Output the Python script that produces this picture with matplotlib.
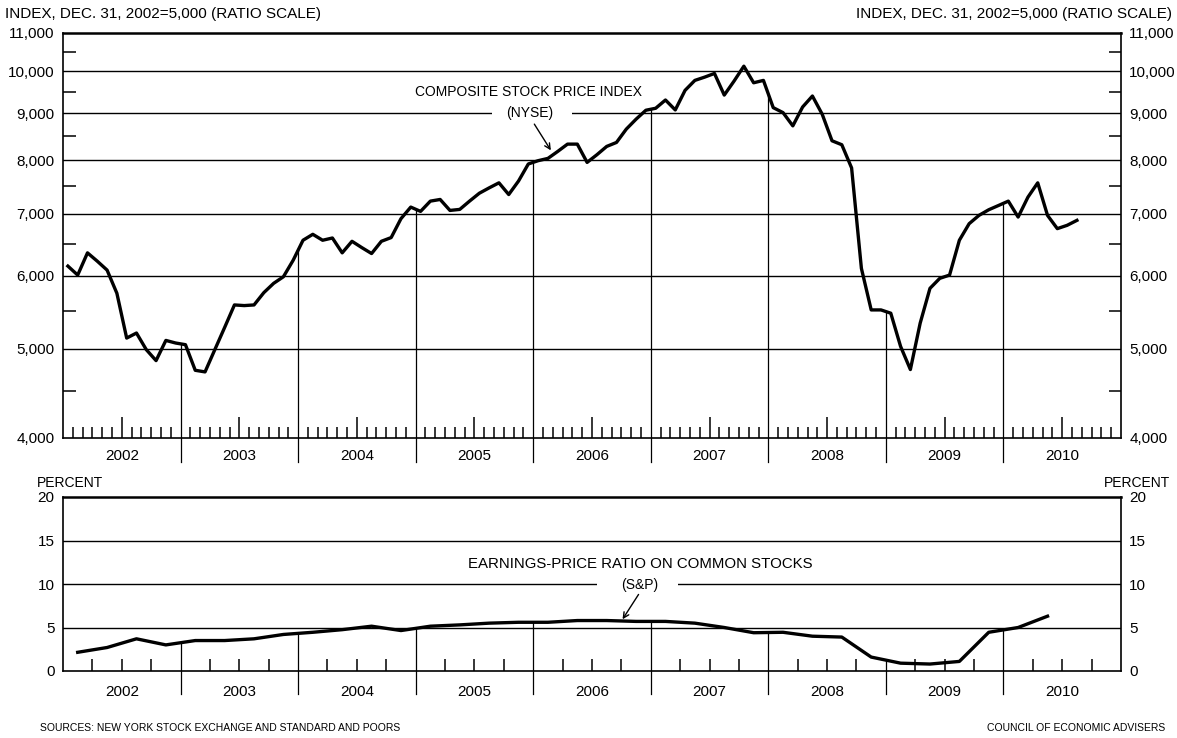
import numpy as np
import matplotlib
matplotlib.use('Agg')
import matplotlib.pyplot as plt
from matplotlib import ticker
from matplotlib.transforms import blended_transform_factory
from matplotlib.patches import Rectangle

plt.rcParams['font.family'] = ['Liberation Sans', 'DejaVu Sans']

years = list(range(2002, 2011))

# NYSE composite, monthly, Dec. 31, 2002 = 5,000
nyse_2002 = [6145, 6009, 6352, 6221, 6084, 5742, 5134, 5199, 4988, 4853, 5104, 5071]
nyse_2003 = [5050, 4737, 4718, 4988, 5272, 5577, 5568, 5577, 5751, 5886, 5984, 6237]
nyse_2004 = [6555, 6653, 6555, 6592, 6352, 6538, 6436, 6341, 6538, 6599, 6918, 7121]
nyse_2005 = [7045, 7228, 7258, 7062, 7080, 7228, 7372, 7471, 7566, 7348, 7600, 7931]
nyse_2006 = [7996, 8042, 8183, 8334, 8334, 7962, 8116, 8286, 8369, 8652, 8870, 9070]
nyse_2007 = [9115, 9305, 9077, 9532, 9772, 9852, 9943, 9420, 9755, 10125, 9714, 9772]
nyse_2008 = [9129, 9016, 8723, 9144, 9398, 8980, 8404, 8321, 7853, 6110, 5508, 5508]
nyse_2009 = [5463, 5028, 4746, 5329, 5813, 5960, 6009, 6555, 6832, 6975, 7074, 7150]
nyse_2010 = [7228, 6946, 7300, 7566, 6975, 6748, 6804, 6889]

# S&P earnings-price ratio, quarterly, percent
ep_ratio = [2.15, 2.7, 3.7, 3.0,
            3.5, 3.5, 3.7, 4.2,
            4.45, 4.75, 5.15, 4.65,
            5.15, 5.3, 5.5, 5.6,
            5.6, 5.8, 5.8, 5.7,
            5.7, 5.5, 5.0, 4.4,
            4.45, 4.0, 3.9, 1.6,
            0.9, 0.8, 1.1, 4.45,
            5.0, 6.3]

index_ticks = [4000, 5000, 6000, 7000, 8000, 9000, 10000, 11000]
index_minor = [4500, 5500, 6500, 7500, 8500, 9500, 10500]
pct_ticks = [0, 5, 10, 15, 20]

nyse = np.array(nyse_2002 + nyse_2003 + nyse_2004 + nyse_2005 + nyse_2006
                + nyse_2007 + nyse_2008 + nyse_2009 + nyse_2010, dtype=float)
months_x = 2002 + (np.arange(len(nyse)) + 0.5) / 12
quarters_x = 2002 + (np.arange(len(ep_ratio)) + 0.5) / 4

W, H = 1177, 738
fig = plt.figure(figsize=(W / 100, H / 100), dpi=100)


def px_axes(l, t, r, b):
    return fig.add_axes([l / W, 1 - b / H, (r - l) / W, (b - t) / H])


def style_frame(ax):
    for side in ['left', 'right', 'bottom']:
        ax.spines[side].set_linewidth(1.2)
    ax.spines['top'].set_linewidth(1.8)


ax1 = px_axes(63, 33, 1121, 438)
ax2 = px_axes(63, 497, 1121, 671)

# ---- top panel: stock price index (ratio scale)
ax1.set_yscale('log')
ax1.set_ylim(index_ticks[0], index_ticks[-1])
ax1.set_xlim(2002, 2011)
ax1.yaxis.set_major_locator(ticker.FixedLocator(index_ticks))
ax1.yaxis.set_major_formatter(ticker.FuncFormatter(lambda v, p: f'{v:,.0f}'))
ax1.yaxis.set_minor_locator(ticker.FixedLocator(index_minor))
ax1.yaxis.set_minor_formatter(ticker.NullFormatter())
ax1.tick_params(axis='y', which='major', length=0, labelsize=11, pad=6,
                left=True, right=True, labelleft=True, labelright=True)
ax1.tick_params(axis='y', which='minor', direction='in', length=9, width=1.1,
                left=True, right=True)

ax1.xaxis.set_major_locator(ticker.FixedLocator([y + 0.5 for y in years]))
ax1.xaxis.set_major_formatter(ticker.FixedFormatter([str(y) for y in years]))
month_ticks = [y + m / 12 for y in years for m in range(1, 12) if m != 6]
ax1.xaxis.set_minor_locator(ticker.FixedLocator(month_ticks))
ax1.tick_params(axis='x', which='major', direction='in', length=15, width=1.1,
                labelsize=11, pad=8)
ax1.tick_params(axis='x', which='minor', direction='in', length=8, width=1.1)

for v in index_ticks[1:-1]:
    ax1.axhline(v, color='black', lw=1.0, zorder=1)

trans1 = blended_transform_factory(ax1.transData, ax1.transAxes)
for yr in years[1:]:
    top = np.exp(np.interp(yr, months_x, np.log(nyse)))
    ax1.plot([yr, yr], [index_ticks[0], top], color='black', lw=0.9, zorder=1)
    ax1.plot([yr, yr], [0, -0.06], color='black', lw=0.9, transform=trans1,
             clip_on=False)

ax1.plot(months_x, nyse, color='black', lw=2.4, zorder=3)

# break in the 9,000 line behind the label
y9 = np.log(9000 / 4000) / np.log(11000 / 4000)
ax1.add_patch(Rectangle((0.4055, y9 - 0.02), 0.0755, 0.04, transform=ax1.transAxes,
                        facecolor='white', edgecolor='none', zorder=2))
ax1.text(0.440, 0.854, 'COMPOSITE STOCK PRICE INDEX', transform=ax1.transAxes,
         ha='center', va='center', fontsize=10, zorder=4)
ax1.text(0.441, y9, '(NYSE)', transform=ax1.transAxes,
         ha='center', va='center', fontsize=10, zorder=4)
arrow_x = 2006.15
arrow_y = np.exp(np.interp(arrow_x, months_x, np.log(nyse)))
ax1.annotate('', xy=(arrow_x, arrow_y * 1.015), xytext=(0.4455, 0.775),
             textcoords='axes fraction',
             arrowprops=dict(arrowstyle='->', color='black', lw=1.0,
                             shrinkA=0, shrinkB=0))
style_frame(ax1)

# ---- bottom panel: earnings-price ratio
ax2.set_xlim(2002, 2011)
ax2.set_ylim(pct_ticks[0], pct_ticks[-1])
ax2.yaxis.set_major_locator(ticker.FixedLocator(pct_ticks))
ax2.tick_params(axis='y', which='major', length=0, labelsize=11, pad=6,
                left=True, right=True, labelleft=True, labelright=True)
ax2.xaxis.set_major_locator(ticker.FixedLocator([y + 0.5 for y in years]))
ax2.xaxis.set_major_formatter(ticker.FixedFormatter([str(y) for y in years]))
ax2.xaxis.set_minor_locator(ticker.FixedLocator(
    [y + q for y in years for q in (0.25, 0.75)]))
ax2.tick_params(axis='x', which='both', direction='in', length=9, width=1.1)
ax2.tick_params(axis='x', which='major', labelsize=11, pad=10)

for v in pct_ticks[1:-1]:
    ax2.axhline(v, color='black', lw=1.0, zorder=1)

trans2 = blended_transform_factory(ax2.transData, ax2.transAxes)
for yr in years[1:]:
    top = np.interp(yr, quarters_x, ep_ratio)
    ax2.plot([yr, yr], [0, top], color='black', lw=0.9, zorder=1)
    ax2.plot([yr, yr], [0, -0.135], color='black', lw=0.9, transform=trans2,
             clip_on=False)

ax2.plot(quarters_x, ep_ratio, color='black', lw=2.4, zorder=3)

ax2.add_patch(Rectangle((0.5047, 0.5 - 0.04), 0.0766, 0.08, transform=ax2.transAxes,
                        facecolor='white', edgecolor='none', zorder=2))
ax2.text(0.546, 0.615, 'EARNINGS-PRICE RATIO ON COMMON STOCKS', transform=ax2.transAxes,
         ha='center', va='center', fontsize=10.8, zorder=4)
ax2.text(0.545, 0.494, '(S&P)', transform=ax2.transAxes,
         ha='center', va='center', fontsize=10, zorder=4)
ep_x = 2006.76
ep_tip = np.interp(ep_x, quarters_x, ep_ratio)
ax2.annotate('', xy=(ep_x, ep_tip + 0.2), xytext=(0.544, 0.44),
             textcoords='axes fraction',
             arrowprops=dict(arrowstyle='->', color='black', lw=1.0,
                             shrinkA=0, shrinkB=0))
style_frame(ax2)

# ---- headers and footers
fig.text(5 / W, 1 - 14 / H, 'INDEX, DEC. 31, 2002=5,000 (RATIO SCALE)',
         ha='left', va='center', fontsize=11)
fig.text(1172 / W, 1 - 14 / H, 'INDEX, DEC. 31, 2002=5,000 (RATIO SCALE)',
         ha='right', va='center', fontsize=11)
fig.text(37 / W, 1 - 483 / H, 'PERCENT', ha='left', va='center', fontsize=10)
fig.text(1170 / W, 1 - 483 / H, 'PERCENT', ha='right', va='center', fontsize=10)
fig.text(40 / W, 1 - 728 / H, 'SOURCES: NEW YORK STOCK EXCHANGE AND STANDARD AND POORS',
         ha='left', va='center', fontsize=7.5)
fig.text(1165 / W, 1 - 728 / H, 'COUNCIL OF ECONOMIC ADVISERS',
         ha='right', va='center', fontsize=7.5)

fig.savefig('out.png', dpi=100)
